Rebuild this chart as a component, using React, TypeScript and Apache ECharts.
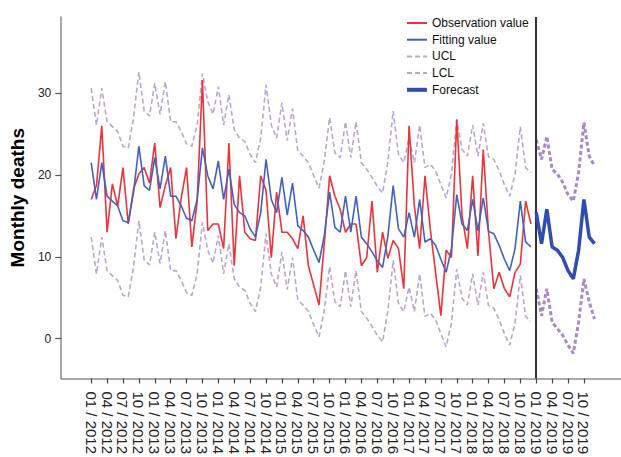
import React, { useEffect, useRef } from "react";
import * as echarts from "echarts";

// ---- Data ----
const years = ["2012", "2013", "2014", "2015", "2016", "2017", "2018", "2019"];
const monthCodes = ["01", "02", "03", "04", "05", "06", "07", "08", "09", "10", "11", "12"];
const months = years.flatMap((y) => monthCodes.map((m) => `${m} / ${y}`));
const tickEvery = 3;
const yTicks = [0, 10, 20, 30];

const observed = [
  17.0, 18.7, 26.0, 13.0, 18.9, 16.2, 20.9, 14.0, 18.3, 20.1, 20.9, 19.0,
  23.9, 16.0, 18.7, 20.9, 12.2, 17.2, 20.9, 11.2, 16.8, 31.6, 13.2, 14.0,
  14.0, 11.0, 23.9, 8.9, 19.9, 13.0, 12.2, 12.0, 19.9, 18.1, 9.9, 17.9,
  13.0, 13.0, 12.2, 11.0, 15.0, 8.9, 6.5, 4.1, 11.6, 19.9, 17.4, 15.8,
  13.0, 14.0, 14.0, 8.9, 9.9, 16.8, 8.1, 13.0, 9.8, 12.0, 11.0, 6.1,
  26.0, 16.2, 11.0, 19.9, 13.4, 8.1, 2.8, 10.8, 9.9, 26.8, 15.0, 11.0,
  19.9, 10.1, 23.1, 13.0, 6.1, 8.1, 6.1, 5.1, 8.1, 9.1, 16.8, 14.0,
];

const fitted = [
  21.5, 17.0, 21.5, 17.4, 16.8, 16.2, 14.4, 14.2, 17.9, 23.5, 18.7, 18.1,
  22.1, 18.3, 22.3, 17.4, 17.4, 16.2, 14.7, 14.4, 17.0, 23.3, 19.9, 18.3,
  21.7, 17.0, 20.7, 16.4, 15.4, 15.0, 13.4, 12.4, 15.4, 21.9, 17.0, 15.4,
  19.7, 15.1, 19.0, 13.8, 13.2, 12.4, 10.8, 9.3, 12.6, 17.9, 13.6, 13.0,
  17.4, 13.0, 17.4, 12.4, 11.6, 10.6, 9.5, 8.7, 12.5, 18.7, 13.4, 12.4,
  15.4, 12.4, 17.0, 11.8, 12.2, 11.4, 9.7, 8.1, 11.0, 17.6, 14.0, 13.2,
  17.0, 13.2, 17.2, 13.1, 12.8, 11.4, 9.7, 8.3, 11.0, 16.8, 11.8, 11.2,
];

const ucl = [
  30.6, 26.1, 30.6, 26.5, 25.9, 25.3, 23.5, 23.3, 27.0, 32.6, 27.8, 27.2,
  31.2, 27.4, 31.4, 26.5, 26.5, 25.3, 23.8, 23.5, 26.1, 32.4, 29.0, 27.4,
  30.8, 26.1, 29.8, 25.5, 24.5, 24.1, 22.5, 21.5, 24.5, 31.0, 26.1, 24.5,
  28.8, 24.2, 28.1, 22.9, 22.3, 21.5, 19.9, 18.4, 21.7, 27.0, 22.7, 22.1,
  26.5, 22.1, 26.5, 21.5, 20.7, 19.7, 18.6, 17.8, 21.6, 27.8, 22.5, 21.5,
  24.5, 21.5, 26.1, 20.9, 21.3, 20.5, 18.8, 17.2, 20.1, 26.7, 23.1, 22.3,
  26.1, 22.3, 26.3, 22.2, 21.9, 20.5, 18.8, 17.4, 20.1, 25.9, 20.9, 20.3,
];

const lcl = [
  12.4, 7.9, 12.4, 8.3, 7.7, 7.1, 5.3, 5.1, 8.8, 14.4, 9.6, 9.0,
  13.0, 9.2, 13.2, 8.3, 8.3, 7.1, 5.6, 5.3, 7.9, 14.2, 10.8, 9.2,
  12.6, 7.9, 11.6, 7.3, 6.3, 5.9, 4.3, 3.3, 6.3, 12.8, 7.9, 6.3,
  10.6, 6.0, 9.9, 4.7, 4.1, 3.3, 1.7, 0.2, 3.5, 8.8, 4.5, 3.9,
  8.3, 3.9, 8.3, 3.3, 2.5, 1.5, 0.4, -0.4, 3.4, 9.6, 4.3, 3.3,
  6.3, 3.3, 7.9, 2.7, 3.1, 2.3, 0.6, -1.0, 1.9, 8.5, 4.9, 4.1,
  7.9, 4.1, 8.1, 4.0, 3.7, 2.3, 0.6, -0.8, 1.9, 7.7, 2.7, 2.1,
];

const forecast = [15.4, 11.6, 15.8, 11.2, 10.8, 9.9, 8.3, 7.3, 10.8, 17.0, 12.4, 11.6];
const forecastUcl = [24.3, 21.9, 24.7, 20.7, 20.1, 19.1, 17.6, 16.8, 20.3, 26.4, 22.3, 21.1];
const forecastLcl = [6.1, 2.8, 6.1, 2.0, 1.2, 0.4, -0.8, -1.8, 2.0, 7.3, 4.5, 2.4];

// ---- Styles ----
const RED = "#ef3238";
const BLUE = "#4262c2";
const DARK_BLUE = "#2f4db3";
const PURPLE = "#b9a5d6";
const PURPLE_DARK = "#a688cf";
const FONT = "'Liberation Sans', Arial, sans-serif";

export default function App() {
  const ref = useRef<HTMLDivElement>(null);

  useEffect(() => {
    if (!ref.current) return;
    const chart = echarts.init(ref.current, undefined, { renderer: "svg" });
    const histStart = 0;
    const fcStart = observed.length;
    const pairs = (arr: number[], start: number) => arr.map((v, i) => [start + i, v]);
    const tickValues = months.map((_, i) => i).filter((i) => i % tickEvery === 0 && i < months.length - 1);
    const hidden = { opacity: 0, borderWidth: 0 };

    chart.setOption({
      animation: false,
      backgroundColor: "#ffffff",
      textStyle: { fontFamily: FONT },
      grid: { left: 60, right: 0, top: 17, bottom: 77, containLabel: false },
      legend: {
        orient: "vertical",
        left: 405,
        top: 17,
        padding: 0,
        itemWidth: 20,
        itemHeight: 14,
        itemGap: 4.7,
        itemStyle: hidden,
        textStyle: { fontSize: 12, color: "#111", fontFamily: FONT },
        data: [
          { name: "Observation value", itemStyle: hidden, lineStyle: { color: RED, width: 2 } },
          { name: "Fitting value", itemStyle: hidden, lineStyle: { color: BLUE, width: 2 } },
          { name: "UCL", itemStyle: hidden, lineStyle: { color: PURPLE, width: 2, type: [5, 3] } },
          { name: "LCL", itemStyle: hidden, lineStyle: { color: PURPLE, width: 2, type: [5, 3] } },
          { name: "Forecast", itemStyle: hidden, lineStyle: { color: DARK_BLUE, width: 4 } },
        ],
      },
      xAxis: {
        type: "value",
        min: -5.65,
        max: 100,
        axisLine: { show: true, onZero: false, lineStyle: { color: "#8c8c8c", width: 1.5 } },
        axisTick: { show: true, customValues: tickValues, length: 5, lineStyle: { color: "#444", width: 1.2 } },
        axisLabel: {
          customValues: tickValues,
          rotate: -90,
          margin: 13,
          fontSize: 15,
          color: "#222",
          fontFamily: FONT,
          formatter: (v: number) => months[Math.round(v)] ?? "",
        },
        splitLine: { show: false },
      },
      yAxis: {
        type: "value",
        min: -4.87,
        max: 39.3,
        name: "Monthly deaths",
        nameLocation: "middle",
        nameGap: 30,
        nameTextStyle: { fontSize: 19, fontWeight: "bold", color: "#000", fontFamily: FONT },
        axisLine: { show: true, onZero: false, lineStyle: { color: "#8c8c8c", width: 1.5 } },
        axisTick: { show: true, customValues: yTicks, length: 6, lineStyle: { color: "#555", width: 1.2 } },
        axisLabel: { customValues: yTicks, fontSize: 12, color: "#222", margin: 10, fontFamily: FONT },
        splitLine: { show: false },
      },
      series: [
        {
          name: "UCL",
          type: "line",
          data: pairs(ucl, histStart),
          symbol: "none",
          lineStyle: { color: PURPLE, width: 1.6, type: [5, 3] },
          itemStyle: { color: PURPLE },
          z: 1,
        },
        {
          name: "LCL",
          type: "line",
          data: pairs(lcl, histStart),
          symbol: "none",
          lineStyle: { color: PURPLE, width: 1.6, type: [5, 3] },
          itemStyle: { color: PURPLE },
          z: 1,
        },
        {
          name: "Observation value",
          type: "line",
          data: pairs(observed, histStart),
          symbol: "none",
          lineStyle: { color: RED, width: 1.6 },
          itemStyle: { color: RED },
          z: 3,
        },
        {
          name: "Fitting value",
          type: "line",
          data: pairs(fitted, histStart),
          symbol: "none",
          lineStyle: { color: BLUE, width: 1.6 },
          itemStyle: { color: BLUE },
          z: 4,
        },
        {
          name: "UCL",
          type: "line",
          data: pairs(forecastUcl, fcStart),
          symbol: "none",
          lineStyle: { color: PURPLE_DARK, width: 3, type: [4, 2.5] },
          itemStyle: { color: PURPLE_DARK },
          z: 2,
        },
        {
          name: "LCL",
          type: "line",
          data: pairs(forecastLcl, fcStart),
          symbol: "none",
          lineStyle: { color: PURPLE_DARK, width: 3, type: [4, 2.5] },
          itemStyle: { color: PURPLE_DARK },
          z: 2,
        },
        {
          name: "Forecast",
          type: "line",
          data: pairs(forecast, fcStart),
          symbol: "none",
          lineStyle: { color: DARK_BLUE, width: 3.5 },
          itemStyle: { color: DARK_BLUE },
          z: 5,
          markLine: {
            silent: true,
            symbol: ["none", "none"],
            label: { show: false },
            lineStyle: { color: "#333", width: 2, type: "solid" },
            data: [{ xAxis: fcStart }],
          },
        },
      ],
    });

    return () => chart.dispose();
  }, []);

  return (
    <div
      ref={ref}
      style={{ position: "fixed", left: 0, top: 0, width: 621, height: 457, background: "#fff" }}
    />
  );
}
